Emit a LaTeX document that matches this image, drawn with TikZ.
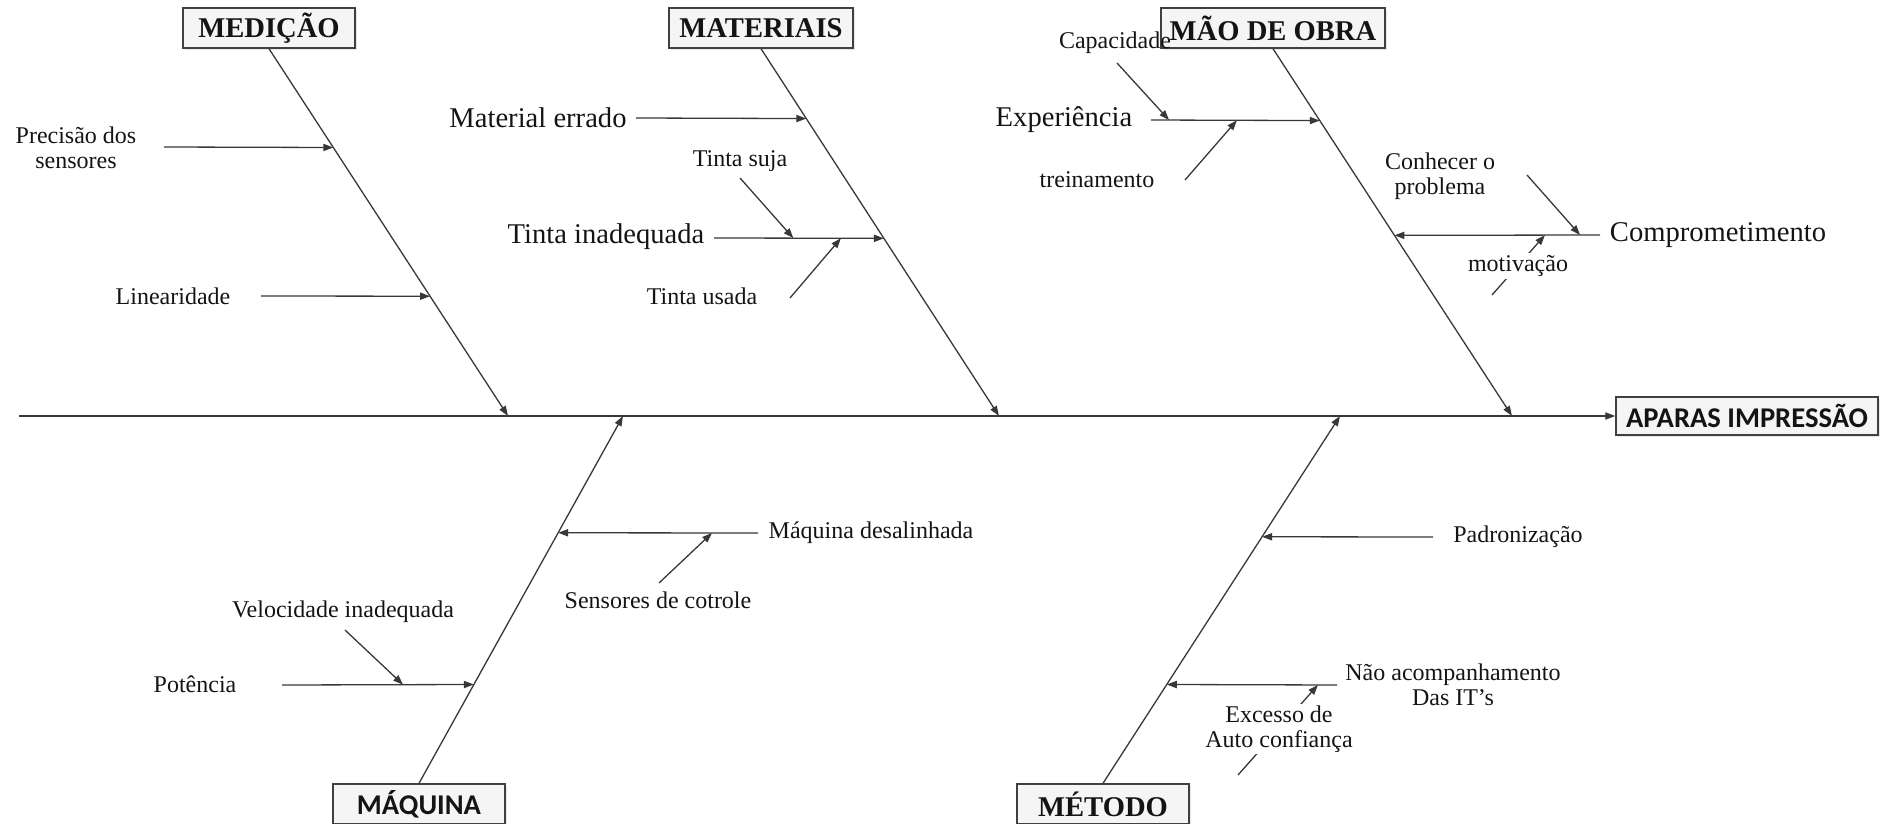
\documentclass[tikz,border=0pt]{standalone}
\usepackage{fontspec}
\setmainfont{Liberation Serif}
\newfontfamily\sansfont{Carlito}
\usetikzlibrary{arrows.meta,calc,shadows}
\begin{document}
\begin{tikzpicture}[x=0.5pt,y=-0.5pt,
  ln/.style={line width=0.65pt, draw=black!78},
  arr/.style={ln, -{Triangle[length=5pt,width=3.6pt]}},
  box/.style={draw=black!75, line width=0.7pt, fill=black!4, inner sep=0pt,
    minimum height=20pt, text=black!92,
    drop shadow={opacity=0.2,shadow xshift=1.2pt,shadow yshift=-1.2pt}},
  tser/.style={font=\fontsize{14.3}{16}\selectfont\bfseries},
  tsan/.style={font=\sansfont\fontsize{14.3}{16}\selectfont\bfseries},
  big/.style={font=\fontsize{14.3}{16}\selectfont, inner sep=1pt, text=black!92},
  small/.style={font=\fontsize{12}{12.5}\selectfont, align=center, inner sep=1pt, text=black!92},
  wbg/.style={fill=white},
]
\useasboundingbox (0,0) rectangle (1892,824);

% category boxes
\node[box,tser,minimum width=86pt] (med) at (269,28) {MEDIÇÃO};
\node[box,tser,minimum width=92pt] (mat) at (761,28) {MATERIAIS};
\node[box,tser,minimum width=112pt] (mao) at (1273,28) {MÃO DE OBRA};
\node[box,tsan,minimum width=131pt,minimum height=19pt] (efe) at (1747,416) {APARAS IMPRESSÃO};
\node[box,tsan,minimum width=86pt] (maq) at (419,804) {MÁQUINA};
\node[box,tser,minimum width=86pt] (met) at (1103,804) {MÉTODO};

% main line
\coordinate (tail) at (19,416);
\draw[arr] (tail) -- (efe.west);

% spine ends on main line
\coordinate (M1) at (508,416);
\coordinate (M2) at (999,416);
\coordinate (M3) at (1512,416);
\coordinate (M4) at (623,416);
\coordinate (M5) at (1340,416);
\draw[arr] (med.south) -- (M1);
\draw[arr] (mat.south) -- (M2);
\draw[arr] (mao.south) -- (M3);
\draw[arr] (maq.north) -- (M4);
\draw[arr] (met.north) -- (M5);

% points on spines
\coordinate (P1) at ($(med.south)!0.2690!(M1)$);
\coordinate (P2) at ($(med.south)!0.6739!(M1)$);
\coordinate (P3) at ($(mat.south)!0.1902!(M2)$);
\coordinate (P4) at ($(mat.south)!0.5163!(M2)$);
\coordinate (P5) at ($(mao.south)!0.1957!(M3)$);
\coordinate (P6) at ($(mao.south)!0.5082!(M3)$);
\coordinate (P7) at ($(maq.north)!0.6821!(M4)$);
\coordinate (P8) at ($(maq.north)!0.2690!(M4)$);
\coordinate (P9) at ($(met.north)!0.6712!(M5)$);
\coordinate (P10) at ($(met.north)!0.2690!(M5)$);

% branch starts
\coordinate (b1) at (164,147);
\coordinate (b2) at (261,296);
\coordinate (b3) at (636,118);
\coordinate (b4) at (714,238);
\coordinate (b5) at (1151,120);
\coordinate (b6) at (1600,235);
\coordinate (b7) at (758,533);
\coordinate (b8) at (282,685);
\coordinate (b9) at (1433,537);
\coordinate (b10) at (1337,685);

\draw[arr] (b1) -- (P1);
\draw[arr] (b2) -- (P2);
\draw[arr] (b3) -- (P3);
\draw[arr] (b4) -- (P4);
\draw[arr] (b5) -- (P5);
\draw[arr] (b6) -- (P6);
\draw[arr] (b7) -- (P7);
\draw[arr] (b8) -- (P8);
\draw[arr] (b9) -- (P9);
\draw[arr] (b10) -- (P10);

% sub-branches
\coordinate (s1) at (740,178);
\coordinate (s2) at (790,298);
\coordinate (s3) at (1117,63);
\coordinate (s4) at (1185,180);
\coordinate (s5) at (1527,175);
\coordinate (s6) at (1492,295);
\coordinate (s7) at (659,583);
\coordinate (s8) at (345,630);
\coordinate (s9) at (1238,775);

\draw[arr] (s1) -- ($(b4)!0.467!(P4)$);
\draw[arr] (s2) -- ($(b4)!0.747!(P4)$);
\draw[arr] (s3) -- ($(b5)!0.107!(P5)$);
\draw[arr] (s4) -- ($(b5)!0.509!(P5)$);
\draw[arr] (s5) -- ($(b6)!0.097!(P6)$);
\draw[arr] (s6) -- ($(b6)!0.268!(P6)$);
\draw[arr] (s7) -- ($(b7)!0.230!(P7)$);
\draw[arr] (s8) -- ($(b8)!0.631!(P8)$);
\draw[arr] (s9) -- ($(b10)!0.112!(P10)$);

% labels
\node[small] (t1) at (76,148) {Precisão dos\\sensores};
\node[small] (t2) at (173,296) {Linearidade};
\node[big] (t3) at (538,118) {Material errado};
\node[small] (t4) at (740,161) {Tinta suja};
\node[big] (t5) at (606,237) {Tinta inadequada};
\node[small] (t6) at (702,296) {Tinta usada};
\node[small] (t7) at (1115,43) {Capacidade};
\node[big] (t8) at (1064,120) {Experiência};
\node[small] (t9) at (1097,180) {treinamento};
\node[small] (t10) at (1440,176) {Conhecer o\\problema};
\node[big] (t11) at (1718,235) {Comprometimento};
\node[small,wbg] (t12) at (1518,266) {motivação};
\node[small] (t13) at (871,533) {Máquina desalinhada};
\node[small] (t14) at (658,600) {Sensores de cotrole};
\node[small] (t15) at (343,612) {Velocidade inadequada};
\node[small] (t16) at (195,684) {Potência};
\node[small] (t17) at (1518,537) {Padronização};
\node[small] (t18) at (1453,685) {Não acompanhamento\\Das IT’s};
\node[small,wbg] (t19) at (1279,729) {Excesso de\\Auto confiança};
\end{tikzpicture}
\end{document}
